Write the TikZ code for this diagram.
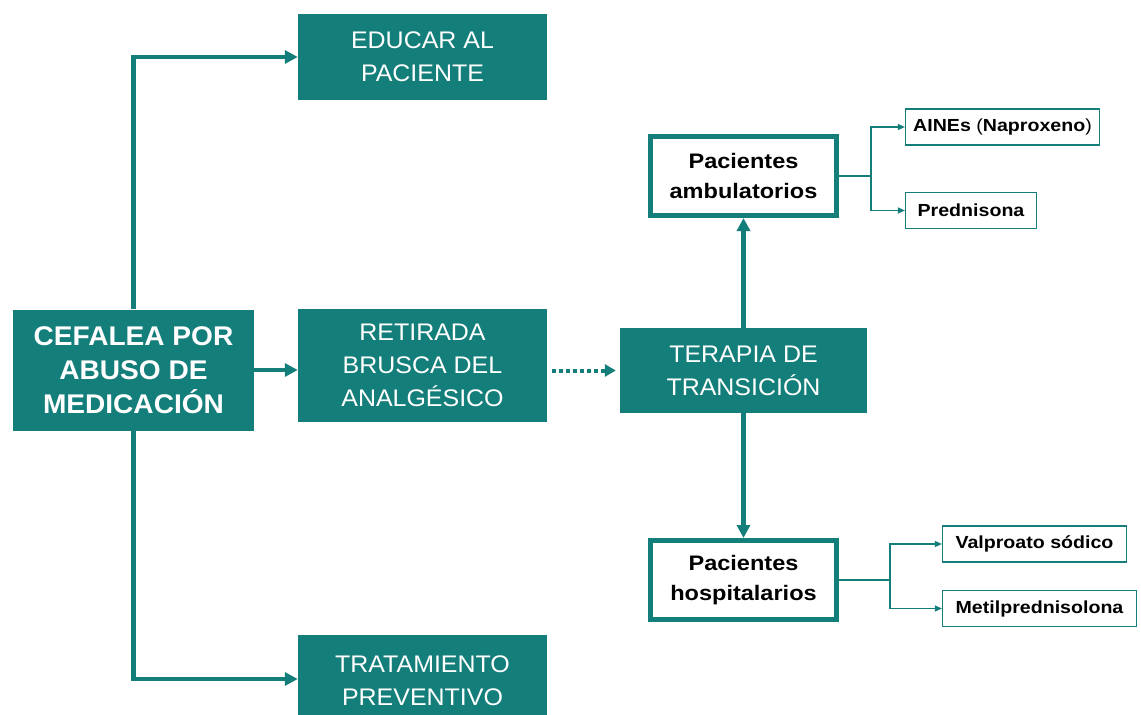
\documentclass[tikz,border=0pt]{standalone}
\usepackage{fontspec}
\setmainfont{Liberation Sans}
\newfontfamily\tealfont{Liberation Sans}[FakeStretch=1.04]
\newfontfamily\widefont{Liberation Sans}[FakeStretch=1.12]
\usetikzlibrary{arrows.meta}
\definecolor{teal1}{RGB}{20,126,122}
\begin{document}
\begin{tikzpicture}[x=1pt,y=-1pt,
  tbox/.style={fill=teal1, text=white, align=center, inner sep=0pt,
    font=\tealfont\fontsize{24}{33}\selectfont},
  wbox/.style={draw=teal1, line width=5pt, fill=white, align=center, inner sep=0pt,
    minimum width=186pt, minimum height=79pt,
    font=\widefont\bfseries\fontsize{21}{30}\selectfont},
  sbox/.style={draw=teal1, line width=1.2pt, fill=white, inner sep=0pt,
    minimum height=36pt, font=\widefont\bfseries\fontsize{17.5}{20}\selectfont},
  bigarrow/.style={-{Triangle[length=13pt,width=13pt]}, line width=4.5pt, draw=teal1},
  thinarrow/.style={-{Triangle[length=7pt,width=6pt]}, line width=1.3pt, draw=teal1},
  thinline/.style={line width=1.3pt, draw=teal1},
  dotarrow/.style={-{Triangle[length=11pt,width=12pt]}, line width=4pt, draw=teal1,
    dash pattern=on 4pt off 3pt}
]
\useasboundingbox (0,0) rectangle (1141,715);
\fill[white] (0,0) rectangle (1141,715);

% teal boxes
\node[tbox, minimum width=249pt, minimum height=86pt] (edu) at (422.5,57) {EDUCAR AL\\PACIENTE};
\node[tbox, minimum width=241pt, minimum height=121pt,
  font=\tealfont\bfseries\fontsize{27}{34}\selectfont] (cef) at (133.5,370) {CEFALEA POR\\ABUSO DE\\MEDICACIÓN};
\node[tbox, minimum width=249pt, minimum height=113pt] (ret) at (422.5,365.5) {RETIRADA\\BRUSCA DEL\\ANALGÉSICO};
\node[tbox, minimum width=247pt, minimum height=85pt] (ter) at (743.5,370.5) {TERAPIA DE\\TRANSICIÓN};
\node[tbox, minimum width=249pt, minimum height=92pt] (tra) at (422.5,681) {TRATAMIENTO\\PREVENTIVO};

% white boxes
\node[wbox] (amb) at (743.5,176) {Pacientes\\ambulatorios};
\node[wbox] (hos) at (743.5,580) {Pacientes\\hospitalarios};

% small boxes
\node[sbox, minimum width=194pt] (ain) at (1002.5,127) {AINEs {\mdseries(}Naproxeno{\mdseries)}};
\node[sbox, minimum width=131pt] (pre) at (971,210.5) {Prednisona};
\node[sbox, minimum width=184pt] (val) at (1034.5,544) {Valproato sódico};
\node[sbox, minimum width=194pt] (met) at (1039.5,608.5) {Metilprednisolona};

% trunk
\draw[bigarrow] (cef.north) |- (edu.west);
\draw[bigarrow] (cef.south) |- ([yshift=2pt]tra.west);
\draw[bigarrow] (cef.east) -- (ret.west |- cef.east);
\draw[dotarrow, shorten >=4pt] ([xshift=5pt]ret.east |- ter.west) -- (ter.west);
\draw[bigarrow] (ter.north) -- (amb.south);
\draw[bigarrow] (ter.south) -- (hos.north);

% branches
\coordinate (b1) at (871,176);
\coordinate (b2) at (890,580);
\draw[thinline] (amb.east) -- (b1);
\draw[thinarrow] (b1) |- (ain.west);
\draw[thinarrow] (b1) |- (pre.west);
\draw[thinline] (hos.east) -- (b2);
\draw[thinarrow] (b2) |- (val.west);
\draw[thinarrow] (b2) |- (met.west);
\end{tikzpicture}
\end{document}
